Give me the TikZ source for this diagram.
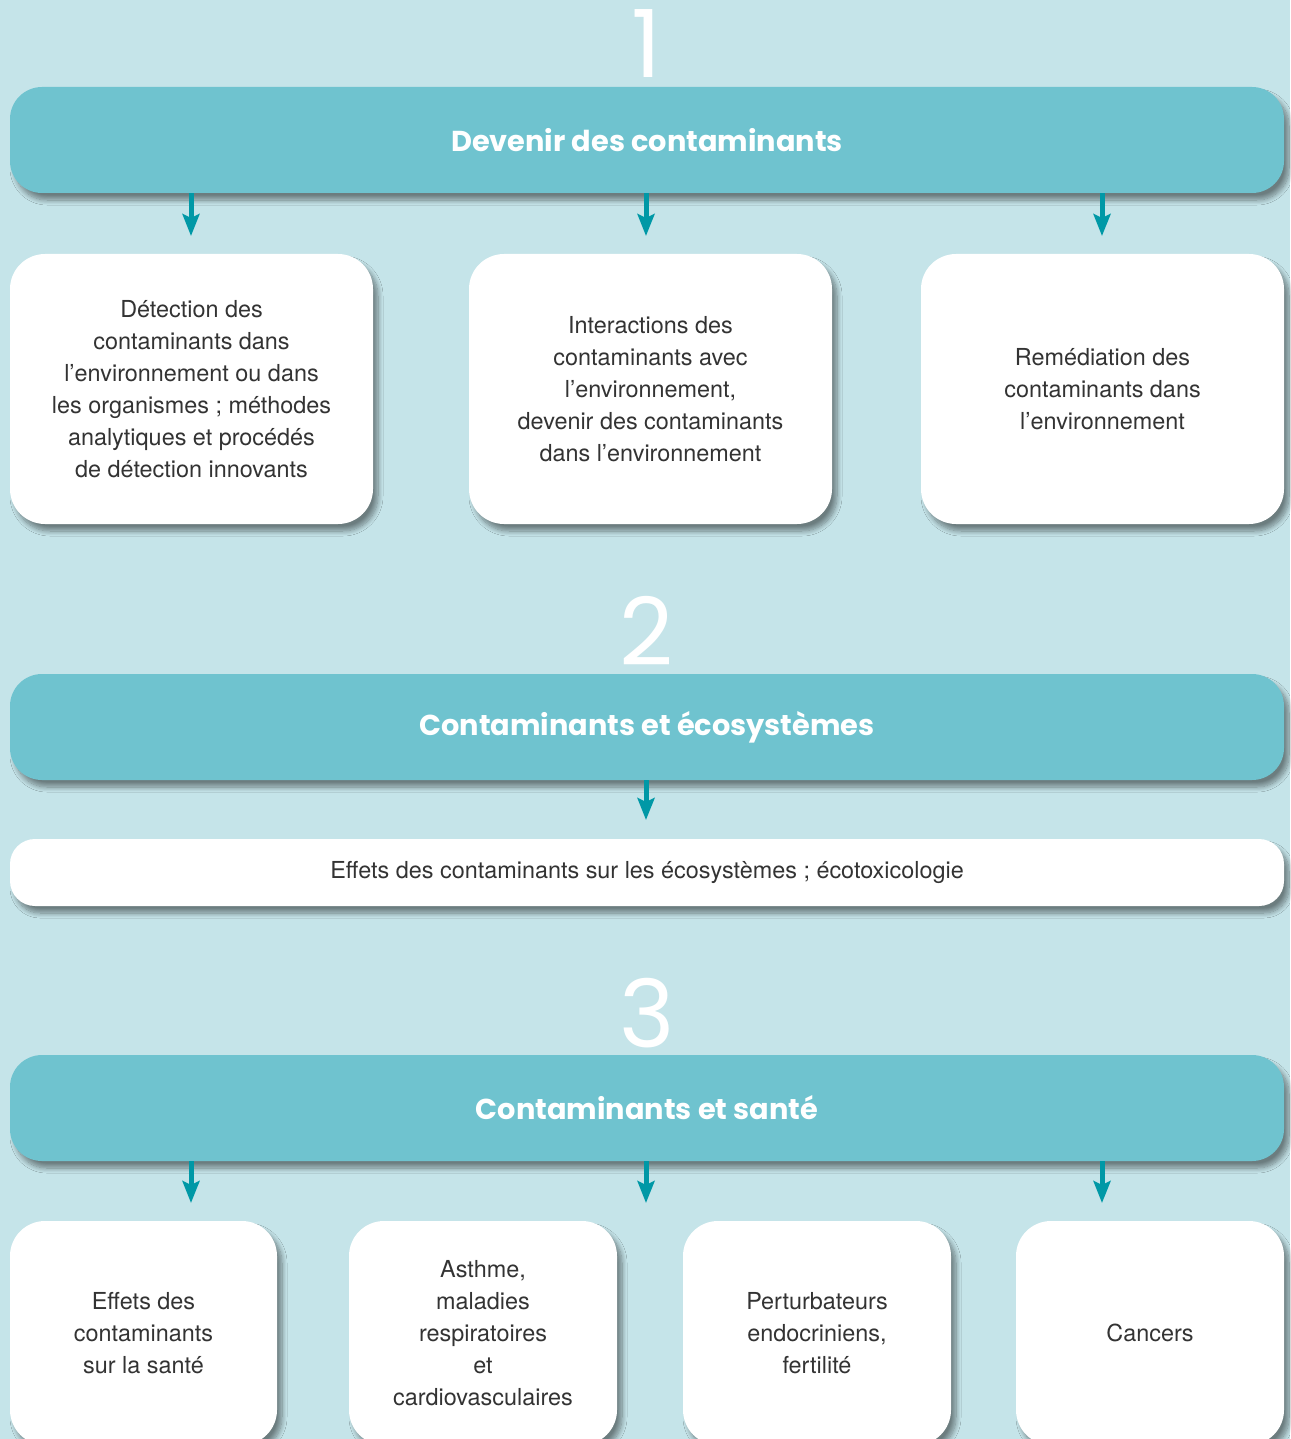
\documentclass[tikz,border=0pt]{standalone}
\usepackage{fontspec}
\setmainfont{TeX Gyre Heros}
\newfontfamily\headfont{Poppins}
\usetikzlibrary{shadows.blur,arrows.meta}
\definecolor{bg}{HTML}{C5E4E9}
\definecolor{head}{HTML}{6FC3CF}
\definecolor{arrowc}{HTML}{0098A6}
\definecolor{txt}{HTML}{333333}
\begin{document}
\begin{tikzpicture}[x=1pt,y=-1pt,
  shade1/.style={blur shadow={shadow xshift=5pt, shadow yshift=-7pt, shadow blur radius=5pt, shadow opacity=45, shadow blur steps=10}},
  heading/.style={fill=head, rounded corners=32pt, minimum width=1274pt, minimum height=106pt, inner sep=0pt,
    text=white, font=\headfont\bfseries\fontsize{28.8}{34}\selectfont, shade1},
  box/.style={fill=white, rounded corners=35pt, inner sep=0pt, text=txt, align=center,
    font=\fontsize{23.4}{32}\selectfont, shade1},
  num/.style={text=white, font=\headfont\fontsize{94}{94}\selectfont, inner sep=0pt, anchor=base},
  arr/.style={draw=arrowc, line width=5pt, -{Stealth[length=22pt,width=17pt,inset=4pt]}}]
\useasboundingbox (0,0) rectangle (1290,1439);
\fill[bg] (0,0) rectangle (1290,1439);

% Section 1
\node[num] (n1) at (647,78) {1};
\node[heading] (h1) at (647,140) {Devenir des contaminants};
\node[box, minimum width=363pt, minimum height=270pt] (b11) at (191.5,389) {Détection des\\contaminants dans\\l’environnement ou dans\\les organismes ; méthodes\\analytiques et procédés\\de détection innovants};
\node[box, minimum width=363pt, minimum height=270pt] (b12) at (650.5,389) {Interactions des\\contaminants avec\\l’environnement,\\devenir des contaminants\\dans l’environnement};
\node[box, minimum width=363pt, minimum height=270pt] (b13) at (1102.5,389) {Remédiation des\\contaminants dans\\l’environnement};
\coordinate (a11) at (191,236);
\coordinate (a12) at (646,236);
\coordinate (a13) at (1102,236);
\draw[arr] (h1.south -| a11) -- (a11);
\draw[arr] (h1.south -| a12) -- (a12);
\draw[arr] (h1.south -| a13) -- (a13);

% Section 2
\node[num] (n2) at (647,665) {2};
\node[heading] (h2) at (647,727) {Contaminants et écosystèmes};
\node[box, rounded corners=25pt, minimum width=1274pt, minimum height=67pt] (b21) at (647,872.5) {Effets des contaminants sur les écosystèmes ; écotoxicologie};
\coordinate (a21) at (646,820);
\draw[arr] (h2.south -| a21) -- (a21);

% Section 3
\node[num] (n3) at (647,1047) {3};
\node[heading] (h3) at (647,1108) {Contaminants et santé};
\node[box, minimum width=267pt, minimum height=224pt] (b31) at (143.5,1333) {Effets des\\contaminants\\sur la santé};
\node[box, minimum width=268pt, minimum height=224pt] (b32) at (483,1333) {Asthme,\\maladies\\respiratoires\\et\\cardiovasculaires};
\node[box, minimum width=268pt, minimum height=224pt] (b33) at (817,1333) {Perturbateurs\\endocriniens,\\fertilité};
\node[box, minimum width=268pt, minimum height=224pt] (b34) at (1150,1333) {Cancers};
\coordinate (a31) at (191,1203);
\coordinate (a32) at (646,1203);
\coordinate (a33) at (1102,1203);
\draw[arr] (h3.south -| a31) -- (a31);
\draw[arr] (h3.south -| a32) -- (a32);
\draw[arr] (h3.south -| a33) -- (a33);
\end{tikzpicture}
\end{document}
